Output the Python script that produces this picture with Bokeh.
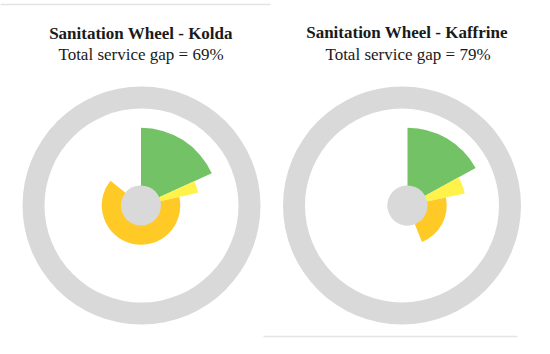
import math
from bokeh.plotting import figure
from bokeh.models import Range1d, ColumnDataSource
from bokeh.core.properties import value
from bokeh.embed import file_html
from bokeh.resources import INLINE

# ---- data ----
categories = ["Basic", "Limited", "Unimproved", "Open defecation"]
levels = [75, 50, 25, 0]                      # service level (% of full radius)
kolda_share = [18.2, 3.3, 64.4, 14.1]         # % of population
kaffrine_share = [17.0, 4.7, 22.3, 56.0]      # % of population
seg_colors = ["#73C366", "#FFF24A", "#FFC926", "#D9D9D9"]
titles = ["Sanitation Wheel - Kolda", "Sanitation Wheel - Kaffrine"]
subtitles = ["Total service gap = 69%", "Total service gap = 79%"]

# ---- layout (pixel coordinates; y measured upward = 354 - pageY) ----
H = 354
W_FIG, H_FIG = 534, 338
wheel_cx = [140.5, 407.0]
ring_cx = [141.0, 401.5]
cy = H - 205
R0, R100 = 20.0, 97.0
RING_OUT = 119.0
GREY = "#D9D9D9"

p = figure(width=W_FIG, height=H_FIG, output_backend="svg", toolbar_location=None,
           x_range=Range1d(0, W_FIG), y_range=Range1d(H - H_FIG, H),
           x_axis_type=None, y_axis_type=None, min_border=0,
           outline_line_color=None, background_fill_color="white")
p.grid.visible = False

# faint separator lines from the source layout
p.segment(x0=[0, 263], y0=[H - 4, H - 336], x1=[270, 517], y1=[H - 4, H - 336],
          line_color="#E4E4E4", line_width=1.5)

for k, shares in enumerate([kolda_share, kaffrine_share]):
    # outer target ring (100% service)
    p.annulus(x=[ring_cx[k]], y=[cy], inner_radius=R100, outer_radius=RING_OUT,
              fill_color=GREY, line_color=None)
    starts, ends, radii = [], [], []
    cum = 0.0
    for s, lv in zip(shares, levels):
        a0 = math.radians(90 - cum * 3.6)
        cum += s
        a1 = math.radians(90 - cum * 3.6)
        starts.append(a0)
        ends.append(a1)
        radii.append(R0 + (R100 - R0) * lv / 100.0)
    src = ColumnDataSource(dict(x=[wheel_cx[k]] * len(shares), y=[cy] * len(shares),
                                r=radii, a0=starts, a1=ends, c=seg_colors,
                                cat=categories))
    p.wedge(x="x", y="y", radius="r", start_angle="a0", end_angle="a1",
            direction="clock", fill_color="c", line_color=None, source=src)
    # centre hub
    p.circle(x=[wheel_cx[k]], y=[cy], radius=R0, fill_color=GREY, line_color=None)

# titles
p.text(x=[140.5, 406.5], y=[H - 33, H - 32], text=titles,
       text_font=value("Liberation Serif"), text_font_style="bold",
       text_font_size="17px", text_align="center", text_baseline="alphabetic",
       text_color="#1a1a1a")
p.text(x=[140.5, 407.5], y=[H - 54, H - 53.5], text=subtitles,
       text_font=value("Liberation Serif"), text_font_size="17px",
       text_align="center", text_baseline="alphabetic", text_color="#1a1a1a")

open("out.html", "w").write(file_html(p, INLINE))
